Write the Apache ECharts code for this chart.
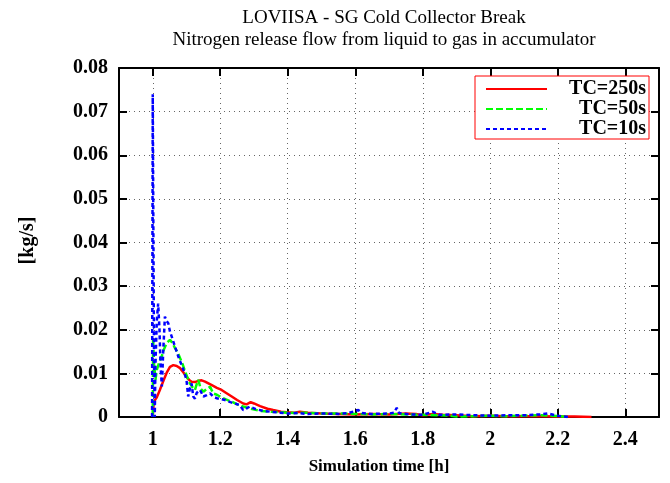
<!DOCTYPE html>
<html>
<head>
<meta charset="utf-8">
<script src="https://cdn.jsdelivr.net/npm/echarts@6/dist/echarts.min.js"></script>
<style>html,body{margin:0;padding:0;background:#fff}#c{width:670px;height:483px}</style>
</head>
<body>
<div id="c"></div>
<script>
const seriesNames = ['TC=250s', 'TC=50s', 'TC=10s'];
const xTickValues = [1, 1.2, 1.4, 1.6, 1.8, 2, 2.2, 2.4];

const tRed = [1.000,1.003,1.012,1.021,1.031,1.041,1.051,1.061,1.071,1.081,1.091,1.100,1.108,1.115,1.125,1.135,1.145,1.155,1.165,1.175,1.190,1.204,1.220,1.234,1.250,1.268,1.278,1.290,1.300,1.318,1.340,1.357,1.380,1.397,1.420,1.436,1.460,1.500,1.550,1.600,1.650,1.700,1.750,1.780,1.800,1.830,1.860,1.900,1.950,2.000,2.050,2.100,2.150,2.200,2.250,2.300];
const vRed = [0,0.0035,0.0045,0.0062,0.0082,0.0101,0.0115,0.0119,0.0117,0.0112,0.0102,0.0092,0.0085,0.0081,0.0080,0.0083,0.0084,0.0081,0.0077,0.0073,0.0067,0.0062,0.0054,0.0047,0.0039,0.0031,0.0029,0.0034,0.0031,0.0025,0.0019,0.0016,0.0012,0.0011,0.0010,0.0012,0.0010,0.0008,0.0007,0.0006,0.0007,0.0006,0.0008,0.0007,0.0004,0.0007,0.0005,0.0004,0.0002,0.0003,0.0002,0.0002,0.0002,0.0001,0.0001,0.0];

const tGreen = [1.000,1.001,1.004,1.008,1.012,1.019,1.026,1.033,1.041,1.051,1.058,1.066,1.074,1.081,1.089,1.096,1.103,1.110,1.118,1.125,1.130,1.135,1.142,1.150,1.160,1.170,1.179,1.190,1.199,1.215,1.234,1.250,1.268,1.290,1.318,1.350,1.380,1.420,1.450,1.500,1.550,1.600,1.650,1.700,1.750,1.800,1.850,1.880,1.900,1.950,2.000,2.050,2.100,2.150,2.200,2.230];
const vGreen = [0,0.018,0.012,0.0085,0.0108,0.0125,0.0138,0.0155,0.0169,0.0177,0.0170,0.0158,0.0148,0.0135,0.0120,0.0104,0.0090,0.0077,0.0068,0.0062,0.0075,0.0085,0.0065,0.0058,0.0064,0.0069,0.0054,0.0051,0.0047,0.0041,0.0035,0.0029,0.0024,0.0019,0.0014,0.0012,0.0011,0.0009,0.0010,0.0008,0.0008,0.0007,0.0006,0.0007,0.0006,0.0005,0.0004,0.0003,0.0001,0.0002,0.0003,0.0002,0.0003,0.0004,0.0002,0.0];

const tBlue = [0.998,1.000,1.002,1.004,1.006,1.008,1.012,1.016,1.020,1.023,1.027,1.031,1.036,1.041,1.046,1.051,1.058,1.066,1.076,1.084,1.091,1.100,1.105,1.110,1.115,1.120,1.125,1.130,1.140,1.150,1.160,1.170,1.180,1.190,1.214,1.230,1.244,1.258,1.268,1.278,1.288,1.305,1.328,1.350,1.377,1.400,1.430,1.460,1.500,1.550,1.580,1.609,1.620,1.650,1.700,1.715,1.723,1.730,1.760,1.800,1.830,1.850,1.900,1.950,2.000,2.050,2.100,2.150,2.170,2.200,2.230];
const vBlue = [0,0.074,0.040,0.010,0.0,0.012,0.022,0.026,0.020,0.012,0.007,0.015,0.023,0.022,0.0215,0.0196,0.018,0.0161,0.0138,0.0122,0.0108,0.0085,0.0047,0.0065,0.0077,0.0047,0.0042,0.0055,0.0062,0.0047,0.0050,0.0054,0.0046,0.0043,0.0039,0.0034,0.0031,0.0027,0.0016,0.0020,0.0024,0.0018,0.0014,0.0012,0.0010,0.0008,0.0009,0.0007,0.0008,0.0007,0.0009,0.0016,0.0009,0.0007,0.0008,0.0010,0.0021,0.0009,0.0006,0.0005,0.0012,0.0005,0.0006,0.0004,0.0003,0.0004,0.0004,0.0006,0.0008,0.0003,0.0];

function pairs(t, v) { return t.map((x, i) => [x, v[i]]); }

const FONT = 'Liberation Serif';
const chart = echarts.init(document.getElementById('c'));
const gridLine = { show: true, lineStyle: { color: '#666', width: 1, type: [1, 4] } };
const frame = { show: true, onZero: false, lineStyle: { color: '#000', width: 2 } };
const tickIn = { show: true, inside: true, length: 8, lineStyle: { color: '#000', width: 2 } };

chart.setOption({
  animation: false,
  backgroundColor: '#fff',
  title: {
    text: 'LOVIISA - SG Cold Collector Break\nNitrogen release flow from liquid to gas in accumulator',
    left: 379, top: 2, textAlign: 'center',
    textStyle: { fontFamily: FONT, fontSize: 19, fontWeight: 'normal', lineHeight: 22, color: '#000' }
  },
  grid: { left: 119, right: 11, top: 68, bottom: 66, containLabel: false },
  legend: {
    orient: 'vertical', right: 21, top: 76,
    backgroundColor: '#fff', borderColor: '#ff0000', borderWidth: 1,
    padding: [3, 3, 0, 10], itemWidth: 61, itemHeight: 14, itemGap: 0,
    itemStyle: { opacity: 0 },
    data: seriesNames,
    formatter: n => '{a|' + n + '}',
    textStyle: { fontFamily: FONT, fontSize: 20, fontWeight: 'bold', color: '#000', lineHeight: 20,
      rich: { a: { width: 94, align: 'right', fontFamily: FONT, fontSize: 20, lineHeight: 20, fontWeight: 'bold' } } }
  },
  xAxis: [{
    type: 'value', min: 0.9, max: 2.5, position: 'bottom',
    name: 'Simulation time [h]', nameLocation: 'middle', nameGap: 41,
    nameTextStyle: { fontFamily: FONT, fontSize: 17, fontWeight: 'bold', color: '#000', padding: [0, 20, 0, 0] },
    axisLine: frame,
    axisTick: Object.assign({ customValues: xTickValues }, tickIn),
    axisLabel: { customValues: xTickValues, margin: 13, fontFamily: FONT, fontSize: 20, fontWeight: 'bold', color: '#000',
      formatter: v => String(+(+v).toFixed(1)) },
    splitLine: gridLine
  }, {
    type: 'value', min: 0.9, max: 2.5, position: 'top',
    axisLine: frame,
    axisTick: Object.assign({ customValues: xTickValues }, tickIn),
    axisLabel: { show: false },
    splitLine: { show: false }
  }],
  yAxis: [{
    type: 'value', min: 0, max: 0.08, interval: 0.01, position: 'left',
    name: '[kg/s]', nameLocation: 'middle', nameGap: 81, nameRotate: 90,
    nameTextStyle: { fontFamily: FONT, fontSize: 20, fontWeight: 'bold', color: '#000', padding: [0, 0, 0, 4] },
    axisLine: frame, axisTick: tickIn,
    axisLabel: { margin: 11, fontFamily: FONT, fontSize: 20, fontWeight: 'bold', color: '#000',
      formatter: v => v === 0 ? '0' : v.toFixed(2) },
    splitLine: gridLine
  }, {
    type: 'value', min: 0, max: 0.08, interval: 0.01, position: 'right',
    axisLine: frame, axisTick: tickIn,
    axisLabel: { show: false }, splitLine: { show: false }
  }],
  series: [
    { name: seriesNames[0], type: 'line', showSymbol: false, symbol: 'none', xAxisIndex: 0, yAxisIndex: 0,
      lineStyle: { color: '#ff0000', width: 2.5, type: 'solid' }, itemStyle: { color: '#ff0000' },
      data: pairs(tRed, vRed), z: 3 },
    { name: seriesNames[1], type: 'line', showSymbol: false, symbol: 'none', xAxisIndex: 0, yAxisIndex: 0,
      lineStyle: { color: '#00ff00', width: 2.5, type: [7, 3] }, itemStyle: { color: '#00ff00' },
      data: pairs(tGreen, vGreen), z: 4 },
    { name: seriesNames[2], type: 'line', showSymbol: false, symbol: 'none', xAxisIndex: 0, yAxisIndex: 0,
      lineStyle: { color: '#0000ff', width: 2.5, type: [4, 3] }, itemStyle: { color: '#0000ff' },
      data: pairs(tBlue, vBlue), z: 5 }
  ]
});
</script>
</body>
</html>
